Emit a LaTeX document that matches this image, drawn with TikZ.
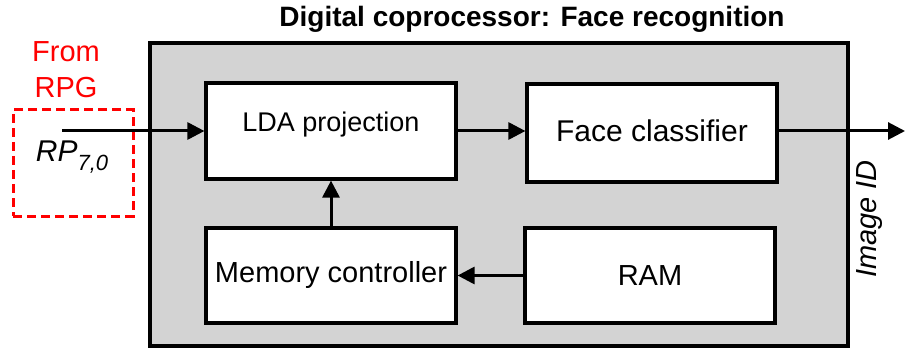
\documentclass[tikz,border=0pt]{standalone}
\usepackage{fontspec}
\setmainfont{Liberation Sans}
\usetikzlibrary{arrows.meta}
\definecolor{boxgray}{RGB}{211,211,211}
\definecolor{rpgred}{RGB}{255,0,0}
\tikzset{
  blockbox/.style={draw=black, line width=3.2pt, fill=white, minimum width=250pt, inner sep=0pt},
  conn/.style={line width=3pt, -{Triangle[length=17pt,width=17pt]}},
  fs/.style={font=\fontsize{#1}{#1}\selectfont}
}
\begin{document}
\begin{tikzpicture}[x=1pt,y=-1pt]
\useasboundingbox (0,0) rectangle (905,350);
% outer coprocessor box
\node[draw=black, line width=3.2pt, fill=boxgray, minimum width=698pt, minimum height=303pt, inner sep=0pt] (cop) at (499,194.5) {};
\node[font=\bfseries\fontsize{28}{28}\selectfont] (title) at (532,19) {Digital coprocessor: Face recognition};
% blocks
\node[blockbox, minimum height=96pt, label={[fs=27, yshift=6pt]center:LDA projection}] (lda) at (331,131) {};
\node[blockbox, minimum height=98pt, label={[fs=30, yshift=2pt]center:Face classifier}] (face) at (652,133) {};
\node[blockbox, minimum height=95pt, fs=29] (mem) at (331,275.5) {Memory controller};
\node[blockbox, minimum height=95pt, fs=29] (ram) at (650,275.5) {RAM};
% RPG box
\node[draw=rpgred, dashed, dash pattern=on 9pt off 5pt, line width=3pt, minimum width=120pt, minimum height=106pt, inner sep=0pt] (rpg) at (73,163) {};
\node[text=rpgred, align=center, font=\fontsize{29}{36}\selectfont] (from) at (66,70) {From\\RPG};
\node[fs=30] (rp) at (72,157) {\itshape RP\raisebox{-0.3em}{\fontsize{22}{22}\selectfont 7,0}};
\coordinate (in) at (62,131);
\coordinate (out) at (905,131);
% Image ID
\node[fs=29, rotate=90] (imgid) at (870,219) {\itshape Image ID};
% connectors
\draw[conn] (in) -- (in -| lda.west);
\draw[conn] (lda.east) -- (lda.east -| face.west);
\draw[conn] (mem.north) -- (lda.south);
\draw[conn] (ram.west) -- (mem.east);
\draw[conn] (face.east |- out) -- (out);
\end{tikzpicture}
\end{document}
